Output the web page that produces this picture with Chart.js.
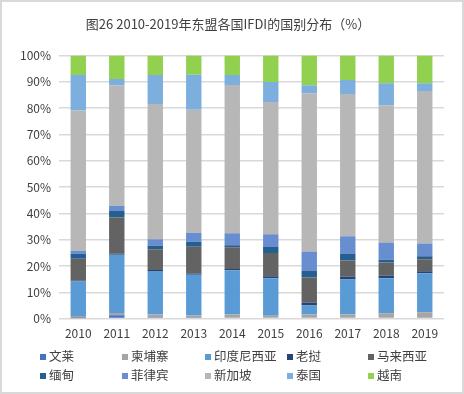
<!DOCTYPE html>
<html><head><meta charset="utf-8">
<script src="https://cdn.jsdelivr.net/npm/chart.js@4"></script>
<style>
html,body{margin:0;padding:0;background:#fff;}
#wrap{position:relative;width:460px;height:390px;border:2px solid #D9D9D9;background:#fff;overflow:hidden;}
#c{position:absolute;left:0;top:0;}
#legend{position:absolute;left:0;top:0;width:460px;font-family:"Noto Sans CJK SC",sans-serif;font-size:12.5px;color:#404040;}
.li{position:absolute;white-space:nowrap;line-height:14px;}
.li span.m{display:inline-block;width:6px;height:6px;margin-right:3px;vertical-align:middle;position:relative;top:-1px;}
</style></head>
<body><div id="wrap"><canvas id="c" width="460" height="390"></canvas><div id="legend"></div></div>
<script>
const years = ['2010','2011','2012','2013','2014','2015','2016','2017','2018','2019'];
const countries = ['文莱','柬埔寨','印度尼西亚','老挝','马来西亚','缅甸','菲律宾','新加坡','泰国','越南'];
const colors = ['#4472C4','#A5A5A5','#5B9BD5','#264478','#636363','#255E91','#698ED0','#B7B7B7','#7CAFDD','#92D050'];
const brunei      = [0.1,1.3,0.5,0.5,0.0,0.0,0.0,0.0,0.0,0.0];
const cambodia    = [0.9,0.8,1.1,0.8,1.6,1.1,1.6,1.6,2.0,2.4];
const indonesia   = [13.1,22.2,16.5,15.4,16.8,14.2,3.4,13.3,13.3,14.8];
const laos        = [0.4,0.4,0.4,0.4,0.5,0.8,1.1,1.1,1.1,0.8];
const malaysia    = [8.3,13.7,7.9,10.2,8.2,8.8,9.5,6.1,4.9,4.6];
const myanmar     = [1.9,2.5,1.3,1.9,0.8,2.3,2.7,2.7,1.1,1.1];
const philippines = [1.1,2.0,2.5,3.4,4.6,4.9,7.2,6.5,6.5,4.9];
const singapore   = [53.3,45.7,51.4,46.8,56.3,50.3,60.2,54.1,52.2,57.9];
const thailand    = [13.5,2.5,11.0,13.3,3.8,7.6,3.0,5.3,8.4,3.0];
const vietnam     = [7.4,8.9,7.4,7.3,7.4,10.0,11.3,9.3,10.5,10.5];
const yTicks = ['0%','10%','20%','30%','40%','50%','60%','70%','80%','90%','100%'];
const series = [brunei,cambodia,indonesia,laos,malaysia,myanmar,philippines,singapore,thailand,vietnam];

const datasets = series.map((d,i)=>({label:countries[i],data:d,backgroundColor:colors[i],borderWidth:0,categoryPercentage:1,barPercentage:0.4}));

new Chart(document.getElementById('c'),{
  type:'bar',
  data:{labels:years,datasets},
  options:{
    responsive:false,animation:false,
    layout:{padding:{left:10,right:18,top:8,bottom:51}},
    plugins:{
      legend:{display:false},tooltip:{enabled:false},
      title:{display:true,text:'图26 2010-2019年东盟各国IFDI的国别分布（%）',color:'#404040',font:{family:'"Noto Sans CJK SC"',size:13,weight:'normal'},padding:{top:6,bottom:24}}
    },
    scales:{
      x:{stacked:true,grid:{display:false},border:{display:false},ticks:{color:'#404040',font:{family:'"Noto Sans CJK SC"',size:12},padding:0}},
      y:{stacked:true,min:0,max:100,
        grid:{color:'#D9D9D9',lineWidth:1.5,drawTicks:false},
        border:{display:false},
        ticks:{stepSize:10,color:'#404040',padding:8,font:{family:'"Noto Sans CJK SC"',size:12},callback:(v,i)=>yTicks[i]}}
    }
  }
});
const lg=document.getElementById('legend');
const colX=[38,120,203,285,366];
const rowY=[347,366];
countries.forEach((n,i)=>{
  const el=document.createElement('div');el.className='li';
  el.style.left=colX[i%5]+'px';el.style.top=rowY[Math.floor(i/5)]+'px';
  el.innerHTML='<span class="m" style="background:'+colors[i]+'"></span>'+n;
  lg.appendChild(el);
});
</script></body></html>
